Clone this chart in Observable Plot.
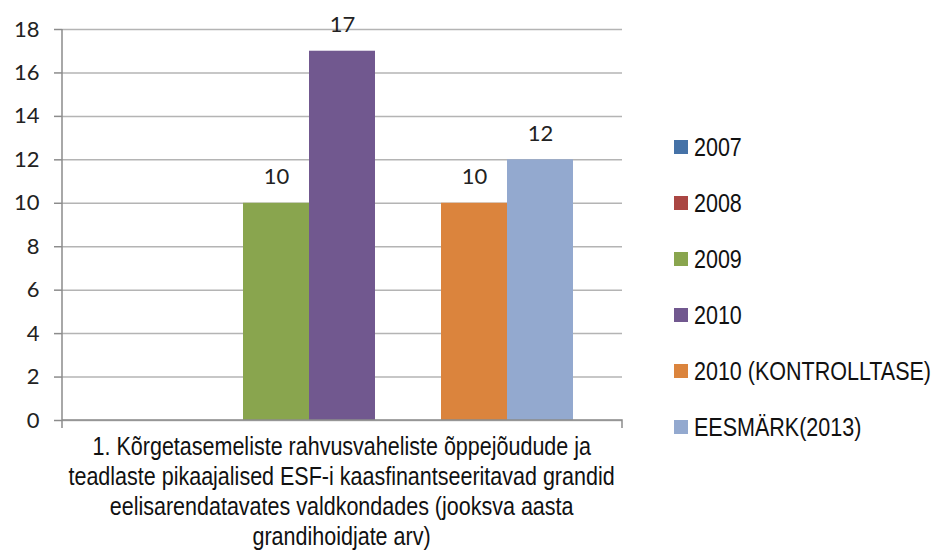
<!DOCTYPE html>
<html>
<head>
<meta charset="utf-8">
<script src="https://cdn.jsdelivr.net/npm/d3@7"></script>
<script src="https://cdn.jsdelivr.net/npm/@observablehq/plot@0.6"></script>
<style>
  html, body { margin: 0; padding: 0; background: #fff; }
  #wrap { position: relative; width: 939px; height: 559px; overflow: hidden; }
  #legend { position: absolute; left: 674px; top: 119px; font-family: "Liberation Sans", Arial, sans-serif; font-size: 25px; color: #111; }
  .item { height: 56px; display: flex; align-items: center; white-space: nowrap; }
  .sw { width: 14px; height: 14px; margin-right: 6px; flex: none; }
  .lt { display: inline-block; transform: scaleX(0.86); transform-origin: left center; }
  #caption { position: absolute; left: -8px; width: 700px; top: 431px; text-align: center; font-family: "Liberation Sans", Arial, sans-serif; font-size: 25px; line-height: 30px; color: #111; }
  #caption span { display: inline-block; white-space: nowrap; transform: scaleX(0.86); transform-origin: center center; }
</style>
</head>
<body>
<div id="wrap">
  <div id="chart"></div>
  <div id="legend"></div>
  <div id="caption"></div>
</div>
<script>
// ---- data ----
const series = ["2007", "2008", "2009", "2010", "2010 (KONTROLLTASE)", "EESMÄRK(2013)"];
const values = [null, null, 10, 17, 10, 12];
const colors = ["#4572A7", "#AA4643", "#89A54E", "#71588F", "#DB843D", "#93A9CF"];
const categoryLines = [
  "1. Kõrgetasemeliste rahvusvaheliste õppejõudude ja",
  "teadlaste pikaajalised ESF-i kaasfinantseeritavad grandid",
  "eelisarendatavates valdkondades (jooksva aasta",
  "grandihoidjate arv)"
];
const yTicks = [0, 2, 4, 6, 8, 10, 12, 14, 16, 18];

// ---- build ----
const data = series.map((s, i) => ({series: s, value: values[i]}));
// Excel leaves an empty slot between "2010" and "2010 (KONTROLLTASE)"
const slots = [...series.slice(0, 4), " ", ...series.slice(4)];

const axisLines = (index, scales, vals, dims) => {
  const {width, height, marginLeft, marginRight, marginTop, marginBottom} = dims;
  const x0 = marginLeft, x1 = width - marginRight, y0 = height - marginBottom;
  const g = d3.create("svg:g");
  g.append("path")
    .attr("d", `M${x0},${marginTop}V${y0 + 8}M${x0},${y0}H${x1}V${y0 + 8}`)
    .attr("fill", "none")
    .attr("stroke", "#8c8c8c")
    .attr("stroke-width", 1.5);
  return g.node();
};

const chart = Plot.plot({
  width: 939,
  height: 432,
  marginLeft: 62,
  marginRight: 317,
  marginTop: 29,
  marginBottom: 12,
  style: {background: "transparent", color: "#222", fontFamily: "Lato, sans-serif"},
  x: {domain: slots, paddingInner: 0, paddingOuter: 0.742, axis: null},
  y: {domain: [0, 18], axis: null},
  color: {domain: series, range: colors},
  marks: [
    Plot.gridY(yTicks, {stroke: "#b4b4b4", strokeOpacity: 1, strokeWidth: 1.5}),
    Plot.axisY(yTicks, {tickSize: 8, tickPadding: 15, fontSize: 22, stroke: "#8c8c8c", strokeWidth: 1.5, label: null, fontFamily: "Lato, sans-serif"}),
    Plot.barY(data.filter(d => d.value != null), {x: "series", y: "value", fill: "series"}),
    axisLines,
    Plot.text(data.filter(d => d.value != null), {x: "series", y: "value", text: d => String(d.value), dy: -26, fontSize: 22, fill: "#222", fontFamily: "Lato, sans-serif"})
  ]
});
document.getElementById("chart").appendChild(chart);

// legend
const legend = d3.select("#legend");
series.forEach((s, i) => {
  const it = legend.append("div").attr("class", "item");
  it.append("div").attr("class", "sw").style("background", colors[i]);
  it.append("span").attr("class", "lt").text(s);
});

// category label
d3.select("#caption").selectAll("div").data(categoryLines).join("div").append("span").text(d => d);
</script>
</body>
</html>
